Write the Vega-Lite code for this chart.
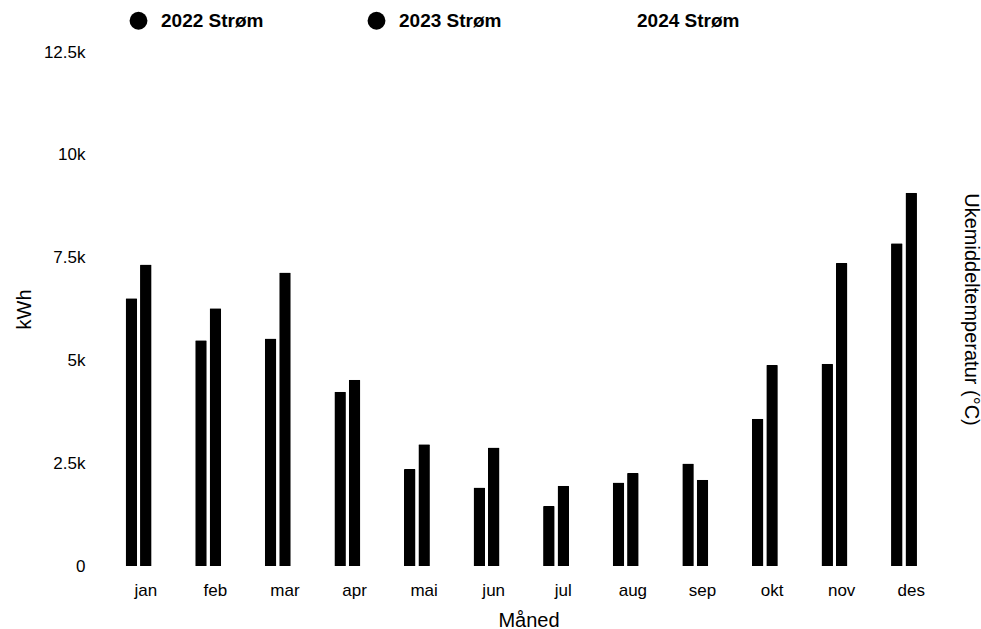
{
  "$schema": "https://vega.github.io/schema/vega-lite/v6.json",
  "width": 835,
  "height": 514,
  "autosize": {"type": "none"},
  "padding": {"left": 111, "top": 52, "right": 35, "bottom": 63},
  "background": "white",
  "config": {
    "view": {"stroke": null},
    "font": "Liberation Sans"
  },
  "data": {
    "values": [
      {"maaned": "jan", "serie": "2022 Strøm", "kWh": 6510},
      {"maaned": "jan", "serie": "2023 Strøm", "kWh": 7330},
      {"maaned": "feb", "serie": "2022 Strøm", "kWh": 5490},
      {"maaned": "feb", "serie": "2023 Strøm", "kWh": 6270},
      {"maaned": "mar", "serie": "2022 Strøm", "kWh": 5530},
      {"maaned": "mar", "serie": "2023 Strøm", "kWh": 7140},
      {"maaned": "apr", "serie": "2022 Strøm", "kWh": 4240},
      {"maaned": "apr", "serie": "2023 Strøm", "kWh": 4530},
      {"maaned": "mai", "serie": "2022 Strøm", "kWh": 2360},
      {"maaned": "mai", "serie": "2023 Strøm", "kWh": 2960},
      {"maaned": "jun", "serie": "2022 Strøm", "kWh": 1910},
      {"maaned": "jun", "serie": "2023 Strøm", "kWh": 2880},
      {"maaned": "jul", "serie": "2022 Strøm", "kWh": 1460},
      {"maaned": "jul", "serie": "2023 Strøm", "kWh": 1950},
      {"maaned": "aug", "serie": "2022 Strøm", "kWh": 2030},
      {"maaned": "aug", "serie": "2023 Strøm", "kWh": 2260},
      {"maaned": "sep", "serie": "2022 Strøm", "kWh": 2490},
      {"maaned": "sep", "serie": "2023 Strøm", "kWh": 2100},
      {"maaned": "okt", "serie": "2022 Strøm", "kWh": 3580},
      {"maaned": "okt", "serie": "2023 Strøm", "kWh": 4890},
      {"maaned": "nov", "serie": "2022 Strøm", "kWh": 4920},
      {"maaned": "nov", "serie": "2023 Strøm", "kWh": 7370},
      {"maaned": "des", "serie": "2022 Strøm", "kWh": 7850},
      {"maaned": "des", "serie": "2023 Strøm", "kWh": 9080}
    ]
  },
  "layer": [
    {
      "mark": {"type": "bar", "cornerRadiusEnd": 1},
      "encoding": {
        "x": {
          "field": "maaned",
          "type": "nominal",
          "sort": ["jan", "feb", "mar", "apr", "mai", "jun", "jul", "aug", "sep", "okt", "nov", "des"],
          "scale": {"paddingInner": 0.42, "paddingOuter": 0.21},
          "axis": {
            "title": "Måned",
            "labelAngle": 0,
            "labelFontSize": 17,
            "labelColor": "black",
            "labelPadding": 16,
            "ticks": false,
            "domain": false,
            "titleFontSize": 20,
            "titleFontWeight": "normal",
            "titleColor": "black",
            "titlePadding": 12
          }
        },
        "xOffset": {
          "field": "serie",
          "type": "nominal",
          "scale": {"domain": ["2022 Strøm", "2023 Strøm", "2024 Strøm"], "paddingInner": 0.2}
        },
        "y": {
          "field": "kWh",
          "type": "quantitative",
          "scale": {"domain": [0, 12500], "nice": false},
          "axis": {
            "title": "kWh",
            "values": [0, 2500, 5000, 7500, 10000, 12500],
            "labelExpr": "datum.value == 0 ? '0' : format(datum.value / 1000, '~r') + 'k'",
            "labelFontSize": 17,
            "labelColor": "black",
            "labelPadding": 26,
            "ticks": false,
            "domain": false,
            "grid": false,
            "titleFontSize": 20,
            "titleFontWeight": "normal",
            "titleColor": "black",
            "titlePadding": 9
          }
        },
        "color": {
          "field": "serie",
          "type": "nominal",
          "scale": {"domain": ["2022 Strøm", "2023 Strøm", "2024 Strøm"], "range": ["#000000", "#000000", "#ffffff"]},
          "legend": {
            "title": null,
            "orient": "none",
            "direction": "horizontal",
            "legendX": 18,
            "legendY": -41,
            "symbolType": "circle",
            "symbolSize": 320,
            "symbolStrokeWidth": 0,
            "labelFontSize": 19,
            "labelFontWeight": "bold",
            "labelColor": "black",
            "labelOffset": 13,
            "columnPadding": 103
          }
        }
      }
    },
    {
      "mark": {"type": "point", "opacity": 0},
      "encoding": {
        "x": {
          "field": "maaned",
          "type": "nominal",
          "sort": ["jan", "feb", "mar", "apr", "mai", "jun", "jul", "aug", "sep", "okt", "nov", "des"]
        },
        "y": {
          "field": "kWh",
          "type": "quantitative",
          "axis": {
            "orient": "right",
            "title": "Ukemiddeltemperatur (°C)",
            "labels": false,
            "ticks": false,
            "domain": false,
            "grid": false,
            "titleFontSize": 20,
            "titleFontWeight": "normal",
            "titleColor": "black",
            "titlePadding": 14
          }
        }
      }
    }
  ],
  "resolve": {"scale": {"y": "independent"}}
}
